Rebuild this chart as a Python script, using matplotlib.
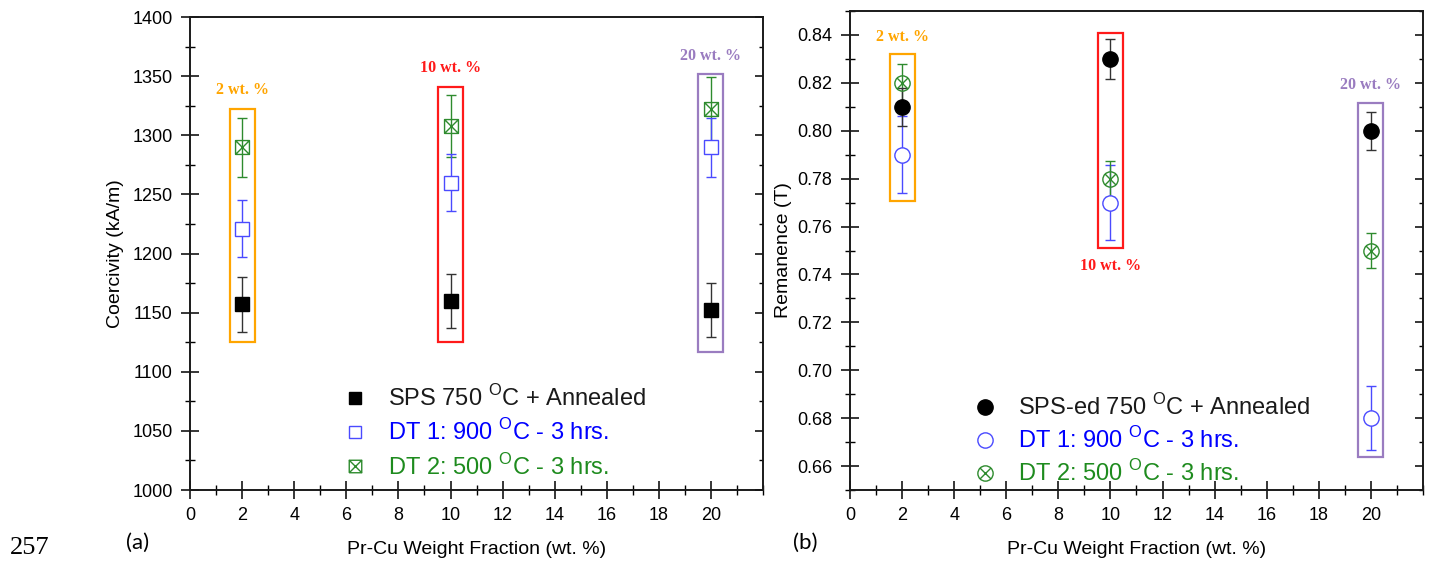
import numpy as np
import matplotlib.pyplot as plt
from matplotlib.path import Path
from matplotlib.patches import Rectangle
from matplotlib.lines import Line2D
from matplotlib.ticker import MultipleLocator, FormatStrFormatter

plt.rcParams['font.family'] = ['Liberation Sans', 'DejaVu Sans']
plt.rcParams['mathtext.fontset'] = 'custom'
plt.rcParams['mathtext.rm'] = 'Liberation Sans'

# data
wt = [2, 10, 20]

# (a) coercivity, kA/m
hc_sps = [1157, 1160, 1152]
hc_sps_err = [23, 23, 23]
hc_dt1 = [1221, 1260, 1290]
hc_dt1_err = [24, 24, 25]
hc_dt2 = [1290, 1308, 1322]
hc_dt2_err = [25, 26, 27]

# (b) remanence, T
br_sps = [0.810, 0.830, 0.800]
br_sps_err = [0.008, 0.0085, 0.008]
br_dt1 = [0.790, 0.770, 0.680]
br_dt1_err = [0.016, 0.0157, 0.0133]
br_dt2 = [0.820, 0.780, 0.750]
br_dt2_err = [0.008, 0.0075, 0.0073]

# highlight boxes: (y bottom, y top, label y)
box_colors = ['#FFA500', '#FF1A1A', '#9A7CC0']
box_labels = ['2 wt. %', '10 wt. %', '20 wt. %']
hc_box = [(1125, 1322, 1338), (1125, 1341, 1357), (1117, 1352, 1367)]
br_box = [(0.7707, 0.832, 0.8392), (0.751, 0.8408, 0.7435), (0.6637, 0.8116, 0.819)]

legend_a = ['SPS 750 $^{\\mathrm{O}}$C + Annealed', 'DT 1: 900 $^{\\mathrm{O}}$C - 3 hrs.',
            'DT 2: 500 $^{\\mathrm{O}}$C - 3 hrs.']
legend_b = ['SPS-ed 750 $^{\\mathrm{O}}$C + Annealed', 'DT 1: 900 $^{\\mathrm{O}}$C - 3 hrs.',
            'DT 2: 500 $^{\\mathrm{O}}$C - 3 hrs.']

# marker shapes: square with X, circle with X
sq = [(-1, -1), (1, -1), (1, 1), (-1, 1), (-1, -1)]
sqx = Path(sq + [(-1, -1), (1, 1), (-1, 1), (1, -1)],
           [Path.MOVETO] + [Path.LINETO] * 4 + [Path.MOVETO, Path.LINETO, Path.MOVETO, Path.LINETO])
d = 0.7071
crossp = Path([(-d, -d), (d, d), (-d, d), (d, -d)],
              [Path.MOVETO, Path.LINETO, Path.MOVETO, Path.LINETO])
circx = Path.make_compound_path(Path.unit_circle(), crossp)

blue = '#4A4AFF'
green = '#2E8B2E'

fig = plt.figure(figsize=(14.29, 5.67), dpi=100)
ax1 = fig.add_axes([0.133, 0.1358, 0.401, 0.8342])
ax2 = fig.add_axes([0.5948, 0.1358, 0.401, 0.8448])


def style(ax, ylo, yhi, ymaj, ymin, fmt):
    ax.set_xlim(0, 22)
    ax.xaxis.set_minor_locator(MultipleLocator(1))
    ax.set_xticks(np.arange(0, 21, 2))
    ax.set_yticks(np.arange(ylo, yhi + ymaj / 2, ymaj))
    ax.yaxis.set_minor_locator(MultipleLocator(ymin))
    ax.yaxis.set_major_formatter(FormatStrFormatter(fmt))
    ax.tick_params(which='major', direction='inout', length=13, width=1.1, labelsize=13, pad=6,
                   top=False, right=False)
    ax.tick_params(which='minor', direction='inout', length=7, width=1.0, top=False, right=False)
    for s in ax.spines.values():
        s.set_linewidth(1.2)
        s.set_color('#1a1a1a')
    ax.set_xlabel('Pr-Cu Weight Fraction (wt. %)', fontsize=14, labelpad=12)
    # right side ticks point inward only
    tw = ax.twinx()
    tw.set_yticks(np.arange(ylo, yhi + ymaj / 2, ymaj))
    tw.yaxis.set_minor_locator(MultipleLocator(ymin))
    tw.tick_params(which='major', direction='in', length=6, width=1.1, labelright=False)
    tw.tick_params(which='minor', direction='in', length=3, width=1.0)
    for s in tw.spines.values():
        s.set_linewidth(1.2)
        s.set_color('#1a1a1a')
    return tw


tw1 = style(ax1, 1000, 1400, 50, 25, '%d')
ax1.set_ylim(1000, 1400)
tw1.set_ylim(1000, 1400)
tw2 = style(ax2, 0.66, 0.84, 0.02, 0.01, '%.2f')
ax2.set_ylim(0.65, 0.85)
tw2.set_ylim(0.65, 0.85)

eb = dict(capsize=3.5, elinewidth=1.0, capthick=1.0, linestyle='none', zorder=3)
# (a)
ax1.errorbar(wt, hc_dt2, yerr=hc_dt2_err, color=green, marker=sqx, ms=10, mfc='none', mec=green, mew=1.0, **eb)
ax1.errorbar(wt, hc_dt1, yerr=hc_dt1_err, color=blue, marker='s', ms=10, mfc='white', mec=blue, mew=1.0, **eb)
ax1.errorbar(wt, hc_sps, yerr=hc_sps_err, color='#333333', marker='s', ms=10, mfc='black', mec='black', **eb)

# (b)
ax2.errorbar(wt, br_dt1, yerr=br_dt1_err, color=blue, marker='o', ms=11, mfc='white', mec=blue, mew=1.0, **eb)
ax2.errorbar(wt, br_dt2, yerr=br_dt2_err, color=green, marker=circx, ms=11, mfc='none', mec=green, mew=1.0, **eb)
ax2.errorbar(wt, br_sps, yerr=br_sps_err, color='#333333', marker='o', ms=11, mfc='black', mec='black', **eb)

for ax, boxes in ((ax1, hc_box), (ax2, br_box)):
    for x, (lo, hi, ly), c, lab in zip(wt, boxes, box_colors, box_labels):
        ax.add_patch(Rectangle((x - 0.48, lo), 0.96, hi - lo, fill=False, edgecolor=c, lw=1.6, zorder=2))
        ax.text(x, ly, lab, color=c, ha='center', va='center', fontsize=11.5, fontweight='bold',
                family='Liberation Serif')

handles_a = [Line2D([], [], ls='none', marker='s', ms=9, mfc='black', mec='black'),
             Line2D([], [], ls='none', marker='s', ms=9, mfc='white', mec=blue, mew=1.0),
             Line2D([], [], ls='none', marker=sqx, ms=9, mfc='none', mec=green, mew=1.0)]
handles_b = [Line2D([], [], ls='none', marker='o', ms=11, mfc='black', mec='black'),
             Line2D([], [], ls='none', marker='o', ms=11, mfc='white', mec=blue, mew=1.0),
             Line2D([], [], ls='none', marker=circx, ms=11, mfc='none', mec=green, mew=1.0)]

label_colors = ['#1a1a1a', 'blue', '#1E8B1E']
for ax, h, l, anchor, sp in ((ax1, handles_a, legend_a, (0.267, 0.222), 0.36),
                             (ax2, handles_b, legend_b, (0.215, 0.200), 0.3)):
    leg = ax.legend(h, l, loc='upper left', bbox_to_anchor=anchor, frameon=False, fontsize=17,
                    handlelength=1.0, handletextpad=0.9, labelspacing=sp, borderpad=0, borderaxespad=0)
    for t, c in zip(leg.get_texts(), label_colors):
        t.set_color(c)

ax1.set_ylabel('Coercivity (kA/m)', fontsize=14, labelpad=6)
ax2.set_ylabel('Remanence (T)', fontsize=14, labelpad=4)

fig.text(138 / 1429, 1 - 543 / 567, '(a)', fontsize=16, family='Lato', ha='center', va='center')
fig.text(805 / 1429, 1 - 543 / 567, '(b)', fontsize=16, family='Lato', ha='center', va='center')
fig.text(30 / 1429, 1 - 548 / 567, '257', fontsize=19, family='Liberation Serif', ha='center', va='center')

fig.savefig('out.png', dpi=100)
